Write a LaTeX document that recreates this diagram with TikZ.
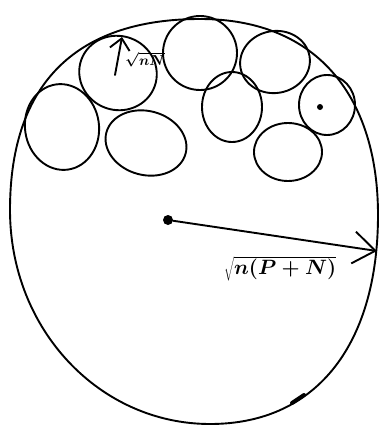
\documentclass[tikz,border=0pt]{standalone}
\usetikzlibrary{arrows.meta}
\begin{document}
\begin{tikzpicture}[x=1pt,y=-1pt,
  ink/.style={line width=1.9pt,line join=round,line cap=round},
  blob/.style={ink},
  barb/.style={ink,-{Straight Barb[length=22pt,width=32pt,line width=1.9pt]}},
  smallbarb/.style={ink,-{Straight Barb[length=11pt,width=20pt,line width=1.9pt]}},
  biglabel/.style={inner sep=0pt,anchor=north west,font=\fontsize{20}{24}\selectfont\boldmath},
  smalllabel/.style={inner sep=0pt,anchor=north west,font=\fontsize{14}{17}\selectfont\boldmath}]
\useasboundingbox (0,0) rectangle (380,426);
% outer region
\draw[ink] (200,19) .. controls (320,19) and (378,100) .. (378,215)
  .. controls (378,340) and (320,424) .. (210,424)
  .. controls (100,424) and (10,330) .. (10,210)
  .. controls (10,80) and (80,19) .. cycle;
\draw[line width=4pt,line cap=round] (292,403) -- (304,395);
% small regions
\draw[blob,rotate around={-20:(118,73)}] (118,73) ellipse (39 and 37);
\draw[blob] (200,53) ellipse (37 and 37);
\draw[blob,rotate around={10:(275,62)}] (275,62) ellipse (35 and 31);
\draw[blob,rotate around={8:(62,127)}] (62,127) ellipse (37 and 43);
\draw[blob,rotate around={-15:(146,143)}] (146,143) ellipse (41 and 32);
\draw[blob] (232,107) ellipse (30 and 35);
\draw[blob] (327,105) ellipse (28 and 30);
\draw[blob] (288,152) ellipse (34 and 29);
% dots
\node[circle,fill,inner sep=0pt,minimum size=10pt] (c) at (168,220) {};
\node[circle,fill,inner sep=0pt,minimum size=6pt] (d) at (320,107) {};
% radius arrows
\coordinate (e) at (377,251);
\draw[barb] (c) -- (e);
\node[biglabel] (bl) at (224,256) {$\sqrt{n(P+N)}$};
\coordinate (s0) at (115,75);
\coordinate (s1) at (122,37);
\draw[smallbarb] (s0) -- (s1);
\node[smalllabel] (sl) at (125,52) {$\sqrt{nN}$};
\end{tikzpicture}
\end{document}
